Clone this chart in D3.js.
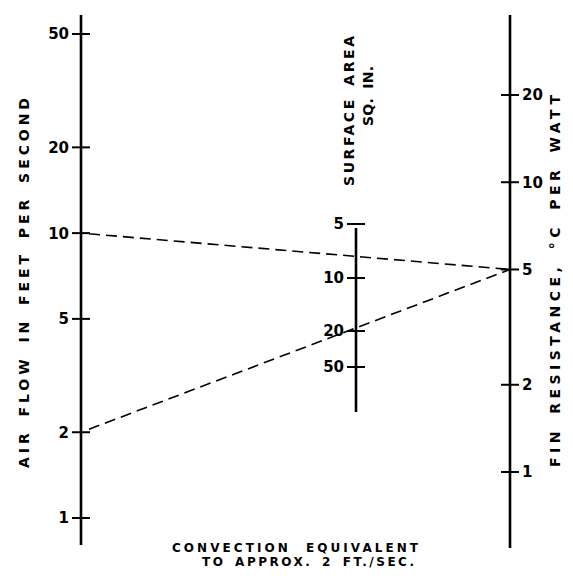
<!DOCTYPE html>
<html>
<head>
<meta charset="utf-8">
<script src="https://cdn.jsdelivr.net/npm/d3@7"></script>
<style>
  html, body { margin: 0; padding: 0; background: #fff; }
  svg { display: block; }
  text { font-family: "DejaVu Sans", sans-serif; fill: #000; }
</style>
</head>
<body>
<svg id="chart" width="573" height="578"></svg>
<script>
// ---- data ----
const airFlowTicks = [1, 2, 5, 10, 20, 50];          // ft/s (left scale)
const areaTicks = [5, 10, 20, 50];                   // sq. in. (middle scale)
const resistanceTicks = [1, 2, 5, 10, 20];           // °C per watt (right scale)
const exampleAirFlow = [10, 2];                      // example keys: air flow
const exampleResistance = [5, 5];                    // example keys: resistance
const titles = {
  left: "AIR FLOW IN FEET PER SECOND",
  middle: ["SURFACE AREA", "SQ. IN."],
  right: "FIN RESISTANCE, °C PER WATT",
  bottom: ["CONVECTION EQUIVALENT", "TO APPROX. 2 FT./SEC."]
};

// ---- layout ----
const svg = d3.select("#chart");
const xLeft = 81, xMid = 356, xRight = 510;

const yAir = d3.scaleLog().domain([1, 50]).range([518, 34]);
const yArea = d3.scaleLog().domain([5, 10, 20, 50]).range([224, 278, 331, 367]);
const yRes = d3.scaleLog().domain([1, 20]).range([472, 95]);

// axis lines
const axes = [
  {x: xLeft, y1: 15, y2: 545},
  {x: xMid, y1: 228, y2: 412},
  {x: xRight, y1: 15, y2: 548}
];
svg.selectAll("line.axis").data(axes).join("line")
  .attr("class", "axis")
  .attr("x1", d => d.x).attr("x2", d => d.x)
  .attr("y1", d => d.y1).attr("y2", d => d.y2)
  .attr("stroke", "#000").attr("stroke-width", 2.6);

function drawTicks(cls, ticks, scale, x, side) {
  const g = svg.append("g").attr("class", cls);
  g.selectAll("line").data(ticks).join("line")
    .attr("x1", x - 9).attr("x2", x + 9)
    .attr("y1", d => scale(d)).attr("y2", d => scale(d))
    .attr("stroke", "#000").attr("stroke-width", 2);
  g.selectAll("text").data(ticks).join("text")
    .attr("x", side < 0 ? x - 12 : x + 12)
    .attr("y", d => scale(d))
    .attr("dy", "0.36em")
    .attr("text-anchor", side < 0 ? "end" : "start")
    .style("font-size", "15px").style("font-weight", "bold")
    .text(d => d);
}
drawTicks("t-air", airFlowTicks, yAir, xLeft, -1);
drawTicks("t-area", areaTicks, yArea, xMid, -1);
drawTicks("t-res", resistanceTicks, yRes, xRight, 1);

// example dashed isopleths
const examples = exampleAirFlow.map((v, i) => ({a: v, r: exampleResistance[i]}));
svg.selectAll("line.iso").data(examples).join("line")
  .attr("class", "iso")
  .attr("x1", xLeft + 8).attr("y1", d => yAir(d.a) - (yAir(d.a) - yRes(d.r)) * 8 / (xRight - xLeft))
  .attr("x2", xRight).attr("y2", d => yRes(d.r))
  .attr("stroke", "#000").attr("stroke-width", 1.6)
  .attr("stroke-dasharray", "11,6");

// titles
function vtext(x, yCenter, str, len) {
  svg.append("text")
    .attr("transform", `translate(${x},${yCenter}) rotate(-90)`)
    .attr("text-anchor", "middle")
    .attr("dy", "0.36em")
    .attr("textLength", len).attr("lengthAdjust", "spacing")
    .style("font-size", "14px").style("font-weight", "bold")
    .style("word-spacing", "4px")
    .text(str);
}
vtext(24, 283, titles.left, 370);
vtext(349, 111, titles.middle[0], 150);
vtext(368, 96, titles.middle[1], 60);
vtext(555, 281, titles.right, 372);

svg.append("text").attr("x", 295).attr("y", 552)
  .attr("text-anchor", "middle")
  .attr("textLength", 246).attr("lengthAdjust", "spacing")
  .style("font-size", "12px").style("font-weight", "bold")
  .style("word-spacing", "8px")
  .text(titles.bottom[0]);
svg.append("text").attr("x", 308).attr("y", 566)
  .attr("text-anchor", "middle")
  .attr("textLength", 212).attr("lengthAdjust", "spacing")
  .style("font-size", "12px").style("font-weight", "bold")
  .style("word-spacing", "3px")
  .text(titles.bottom[1]);
</script>
</body>
</html>
